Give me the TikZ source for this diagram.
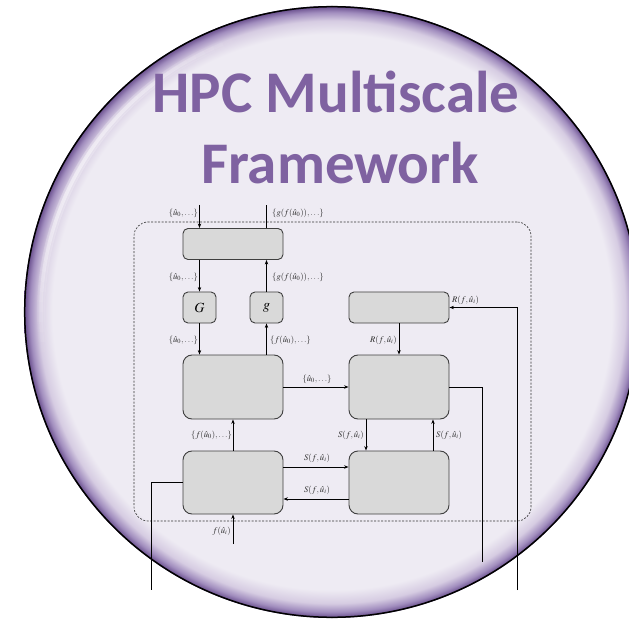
\documentclass[tikz,border=0pt]{standalone}
\usepackage{mathptmx}
\usepackage{fontspec}
\setmainfont{Liberation Serif}
\newfontfamily\titlefont{Carlito}
\usetikzlibrary{arrows.meta,calc}

\definecolor{innerfill}{HTML}{EEEBF3}
\definecolor{rimA}{HTML}{D6CCE2}
\definecolor{rimB}{HTML}{A18DBE}
\definecolor{rimC}{HTML}{644989}
\definecolor{titlecol}{HTML}{7F62A1}
\definecolor{boxfill}{HTML}{D9D9D9}
\definecolor{boxline}{HTML}{3F3F3F}
\definecolor{lblcol}{HTML}{2A2A2A}

% glossy purple rim of the badge
\pgfdeclareradialshading{rimshade}{\pgfpoint{0bp}{0bp}}{%
  color(0bp)=(innerfill); color(22.7bp)=(innerfill);
  color(23.8bp)=(rimA); color(24.5bp)=(rimB); color(25bp)=(rimC); color(50bp)=(rimC)}

\begin{document}
\begin{tikzpicture}[x=1pt,y=-1pt,
  box/.style={draw=boxline, fill=boxfill, line width=0.9pt, rounded corners=5pt,
    inner sep=0pt, minimum width=100pt, minimum height=31pt},
  smallbox/.style={box, minimum width=33pt, font=\fontsize{14}{15}\selectfont},
  bigbox/.style={box, minimum height=64pt, rounded corners=9pt},
  frame/.style={draw=black!80, dashed, dash pattern=on 2pt off 1.5pt, line width=0.6pt,
    rounded corners=14pt, inner sep=0pt, minimum width=397pt, minimum height=299pt},
  title/.style={font=\titlefont\bfseries\fontsize{59}{72}\selectfont, text=titlecol, inner sep=0pt},
  lbl/.style={font=\fontsize{8.6}{9}\selectfont, text=lblcol, inner sep=0pt},
  conn/.style={draw=black, line width=0.7pt},
  arr/.style={conn, -{Stealth[length=4.5pt,width=3.4pt]}}]

\useasboundingbox (0,0) rectangle (629,620);
\fill[white] (0,0) rectangle (629,620);

% badge
\coordinate (C) at (332,312);
\shade[shading=rimshade] (C) ellipse [x radius=308, y radius=306];
\foreach \a in {170,172,...,248} {
  \pgfmathsetmacro\op{sin((\a-170)*180/80)}
  \draw[white, opacity=0.25*\op, line width=8pt]
    ($(C)+(\a:291 and 289)$) arc[start angle=\a, end angle=\a+2, x radius=291, y radius=289];
  \draw[white, opacity=0.45*\op, line width=3.5pt]
    ($(C)+(\a:291 and 289)$) arc[start angle=\a, end angle=\a+2, x radius=291, y radius=289];
}
\draw[black, line width=1.5pt] (C) ellipse [x radius=307.3, y radius=305.3];

% title
\node[title, anchor=base] (t1) at (336,113) {HPC Multiscale};
\node[title, anchor=base] (t2) at (340,184) {Framework};

% framework blocks
\node[frame] (fr) at (332.5,371.5) {};
\node[box] (top) at (233,244) {};
\node[smallbox] (G) at (199.5,307.5) {$G$};
\node[smallbox] (g) at (266.5,307.5) {$g$};
\node[box] (R) at (399,307.5) {};
\node[bigbox] (b1) at (233,387) {};
\node[bigbox] (b2) at (399,387) {};
\node[bigbox, minimum height=63pt] (b3) at (233,482.5) {};
\node[bigbox, minimum height=63pt] (b4) at (399,482.5) {};

% free ends
\coordinate (inTop) at (199.5,205);
\coordinate (outTop) at (266.5,205);
\coordinate (fin) at (233,544);
\coordinate (o3) at (151,590);
\coordinate (o2) at (482,562);
\coordinate (rin) at (517,590);

% connectors
\draw[arr] (inTop) -- (inTop |- top.north);
\draw[conn] (top.north -| outTop) -- (outTop);
\draw[arr] (top.south -| G.north) -- (G.north);
\draw[arr] (g.north) -- (top.south -| g.north);
\draw[arr] (G.south) -- (b1.north -| G.south);
\draw[arr] (b1.north -| g.south) -- (g.south);
\draw[arr] (R.south) -- (b2.north);
\draw[arr] (b1.east) -- (b2.west);
\draw[arr] ([xshift=-33pt]b2.south) -- ([xshift=-33pt]b4.north);
\draw[arr] ([xshift=34pt]b4.north) -- ([xshift=34pt]b2.south);
\draw[arr] (b3.north) -- (b1.south);
\draw[arr] ([yshift=15.5pt]b3.east) -- ([yshift=15.5pt]b4.west);
\draw[arr] ([yshift=-16.5pt]b4.west) -- ([yshift=-16.5pt]b3.east);
\draw[arr] (fin) -- (b3.south);
\draw[conn] (b3.west) -| (o3);
\draw[conn] (b2.east) -| (o2);
\draw[arr] (rin) |- (R.east);

% labels
\node[lbl, anchor=east] (l1) at (198,213) {$\{\hat u_0,\ldots\}$};
\node[lbl, anchor=west] (l2) at (272,213) {$\{g(f(\hat u_0)),\ldots\}$};
\node[lbl, anchor=east] (l3) at (198,277) {$\{\hat u_0,\ldots\}$};
\node[lbl, anchor=west] (l4) at (272,277) {$\{g(f(\hat u_0)),\ldots\}$};
\node[lbl, anchor=west] (l5) at (452,300) {$R(f,\hat u_i)$};
\node[lbl, anchor=east] (l6) at (198,340) {$\{\hat u_0,\ldots\}$};
\node[lbl, anchor=west] (l7) at (270,340) {$\{f(\hat u_0),\ldots\}$};
\node[lbl, anchor=east] (l8) at (397,340) {$R(f,\hat u_i)$};
\node[lbl] (l9) at (317,379) {$\{\hat u_0,\ldots\}$};
\node[lbl, anchor=east] (l10) at (232,435) {$\{f(\hat u_0),\ldots\}$};
\node[lbl, anchor=east] (l11) at (364,435) {$S(f,\hat u_i)$};
\node[lbl, anchor=west] (l12) at (436,435) {$S(f,\hat u_i)$};
\node[lbl] (l13) at (317,458) {$S(f,\hat u_i)$};
\node[lbl] (l14) at (317,490) {$S(f,\hat u_i)$};
\node[lbl, anchor=east] (l15) at (231,531) {$f(\hat u_i)$};
\end{tikzpicture}
\end{document}
